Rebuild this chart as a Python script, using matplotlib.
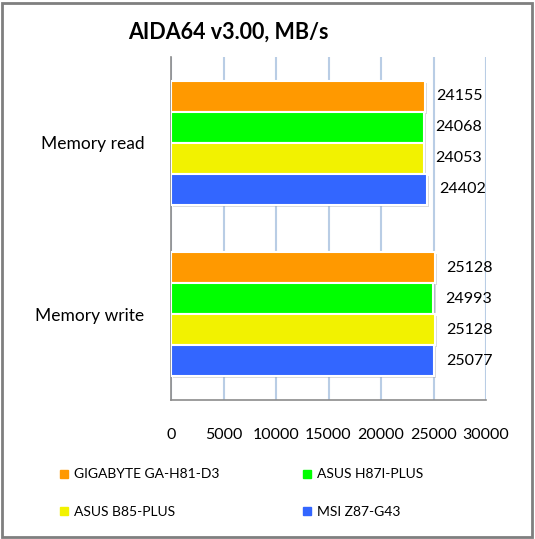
import matplotlib
matplotlib.use("Agg")
import matplotlib.pyplot as plt
import matplotlib.patheffects as pe
from matplotlib.lines import Line2D
from matplotlib.patches import Rectangle
import numpy as np

categories = ["Memory read", "Memory write"]
series_names = ["GIGABYTE GA-H81-D3", "ASUS H87I-PLUS", "ASUS B85-PLUS", "MSI Z87-G43"]
series_values = [
    [24155, 25128],
    [24068, 24993],
    [24053, 25128],
    [24402, 25077],
]
colors = ["#FF9900", "#00FF00", "#F2F200", "#3366FF"]
xticks = [0, 5000, 10000, 15000, 20000, 25000, 30000]

plt.rcParams['font.family'] = ['Lato', 'DejaVu Sans']

W, H = 535, 539
fig = plt.figure(figsize=(W / 100, H / 100), dpi=100)
fig.patch.set_facecolor("white")

ax = fig.add_axes([171 / W, 1 - 400 / H, (486 - 171) / W, (400 - 57) / H])
ax.set_xlim(0, 30000)
ax.set_ylim(-0.5, 1.5)
ax.invert_yaxis()

bh = 0.181
n = len(series_values)
for i, (vals, c) in enumerate(zip(series_values, colors)):
    offs = (i - (n - 1) / 2) * bh
    ys = np.arange(len(categories)) + offs
    bars = ax.barh(ys, vals, height=bh, color=c, edgecolor="white", linewidth=1.5, zorder=3)
    for b in bars:
        b.set_path_effects([pe.SimplePatchShadow(offset=(1.5, -1.5), shadow_rgbFace="#999999", alpha=0.35), pe.Normal()])
    for y, v in zip(ys, vals):
        ax.text(v + 1100, y, str(v), va="center", ha="left", fontsize=11.5, color="black", zorder=4)

ax.set_xticks(xticks)
ax.set_xticklabels([str(t) for t in xticks], fontsize=11.5)
ax.set_yticks(range(len(categories)))
ax.set_yticklabels(categories, fontsize=12.5)
ax.tick_params(axis="x", length=0, pad=20)
ax.tick_params(axis="y", length=0, pad=19)
ax.grid(axis="x", color="#B9CDE5", linewidth=1.5, zorder=0)
ax.grid(axis="y", visible=False)
for s in ["top", "right"]:
    ax.spines[s].set_visible(False)
for s in ["left", "bottom"]:
    ax.spines[s].set_color("#8C8C8C")
    ax.spines[s].set_linewidth(1.2)

fig.text(228 / W, 1 - 32 / H, "AIDA64 v3.00, MB/s", ha="center", va="center",
         fontsize=15.5, fontweight="bold")

handles = [Line2D([0], [0], marker="s", linestyle="none", markersize=6,
                  markerfacecolor=c, markeredgecolor=c) for c in colors]
order = [0, 2, 1, 3]
leg = fig.legend([handles[k] for k in order], [series_names[k] for k in order],
                 ncol=2, loc="upper left",
                 bbox_to_anchor=(45 / W, 1 - 456 / H), frameon=False,
                 fontsize=10, handletextpad=0.2, columnspacing=5.8,
                 labelspacing=1.85, handlelength=1.0)

fig.patches.append(Rectangle((2 / W, 2 / H), (W - 5) / W, (H - 5) / H,
                             transform=fig.transFigure, fill=False,
                             edgecolor="#7F7F7F", linewidth=2))

fig.savefig("out.png", dpi=100)
